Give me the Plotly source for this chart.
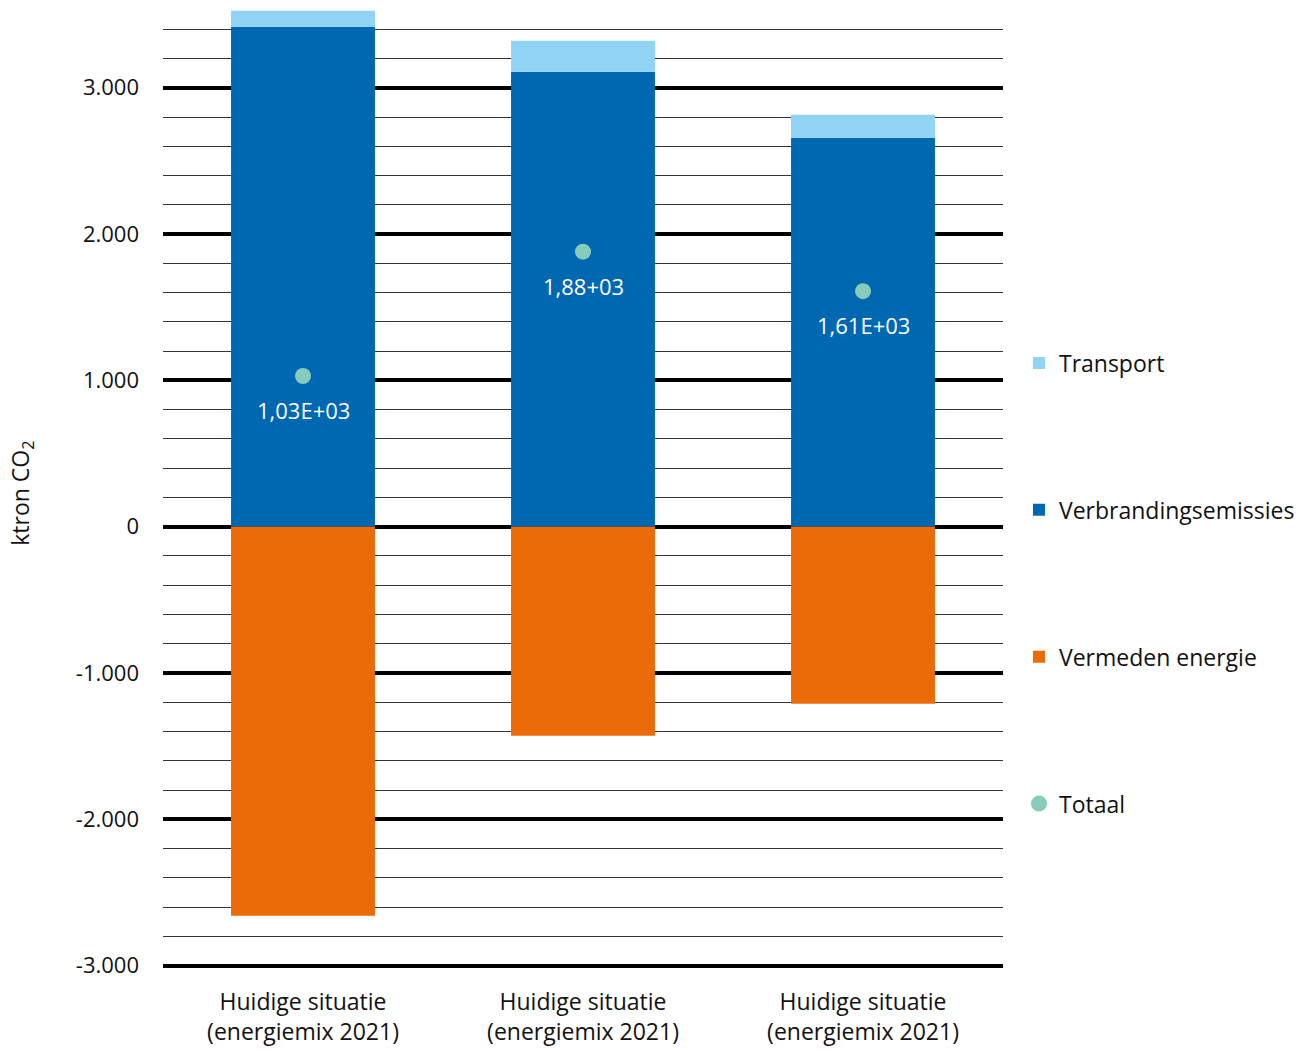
import plotly.graph_objects as go

categories = ["Huidige situatie<br>(energiemix 2021)"] * 3
x_pos = [0, 1, 2]
verbranding = [3418, 3110, 2659]
transport = [109, 212, 157]
vermeden = [-2659, -1429, -1210]
totaal = [1030, 1880, 1610]
totaal_labels = ["1,03E+03", "1,88+03", "1,61E+03"]
tick_vals = [-3000, -2000, -1000, 0, 1000, 2000, 3000]
tick_text = ["-3.000", "-2.000", "-1.000", "0", "1.000", "2.000", "3.000"]

FONT = "Open Sans"
C_TRANS = "#91d3f5"
C_VERB = "#0067b1"
C_VERM = "#ea6b08"
C_TOT = "#87cbba"

fig = go.Figure()
bw = 0.514
fig.add_trace(go.Bar(x=x_pos, y=verbranding, name="Verbrandingsemissies", marker_color=C_VERB,
                     width=bw, legendgroup="b", legendrank=2, marker_line_width=0))
fig.add_trace(go.Bar(x=x_pos, y=transport, name="Transport", marker_color=C_TRANS,
                     width=bw, legendgroup="a", legendrank=1, marker_line_width=0))
fig.add_trace(go.Bar(x=x_pos, y=vermeden, name="Vermeden energie", marker_color=C_VERM,
                     width=bw, legendgroup="c", legendrank=3, marker_line_width=0))
fig.add_trace(go.Scatter(x=x_pos, y=totaal, name="Totaal", mode="markers",
                         marker=dict(color=C_TOT, size=16), legendgroup="d", legendrank=4))

for xi, yi, t in zip(x_pos, totaal, totaal_labels):
    fig.add_annotation(x=xi, y=yi, text=t, showarrow=False, yshift=-34,
                       font=dict(family=FONT, size=22, color="white"))

fig.add_annotation(xref="paper", yref="paper", x=-0.1679, y=0.492, text="ktron CO<sub>2</sub>",
                   textangle=-90, showarrow=False, xanchor="center", yanchor="middle",
                   font=dict(family=FONT, size=23, color="#111"))

fig.update_layout(
    width=1307, height=1052,
    margin=dict(l=163, r=304, t=0, b=82),
    plot_bgcolor="white", paper_bgcolor="white",
    barmode="relative",
    font=dict(family=FONT, size=20, color="#111"),
    showlegend=True,
    legend=dict(x=1.019, y=0.648, xanchor="left", yanchor="top",
                font=dict(family=FONT, size=23, color="#111"),
                tracegroupgap=114, traceorder="grouped", itemwidth=30),
    xaxis=dict(tickvals=x_pos, ticktext=categories, range=[-0.5, 2.5],
               showgrid=False, zeroline=False, showline=False, ticks="",
               tickfont=dict(family=FONT, size=23, color="#111"), ticklabelstandoff=16),
    yaxis=dict(range=[-3030, 3600], tickvals=tick_vals, ticktext=tick_text,
               showgrid=True, gridcolor="black", gridwidth=3.5, zeroline=False,
               showline=False, ticks="", ticklabelstandoff=23,
               tickfont=dict(family=FONT, size=22, color="#111"),
               minor=dict(dtick=200, tick0=0, showgrid=True, gridcolor="#333", gridwidth=1.2)),
)

fig.write_html("out.html", config={"displayModeBar": False},
               post_script="document.body.style.margin='0';")
